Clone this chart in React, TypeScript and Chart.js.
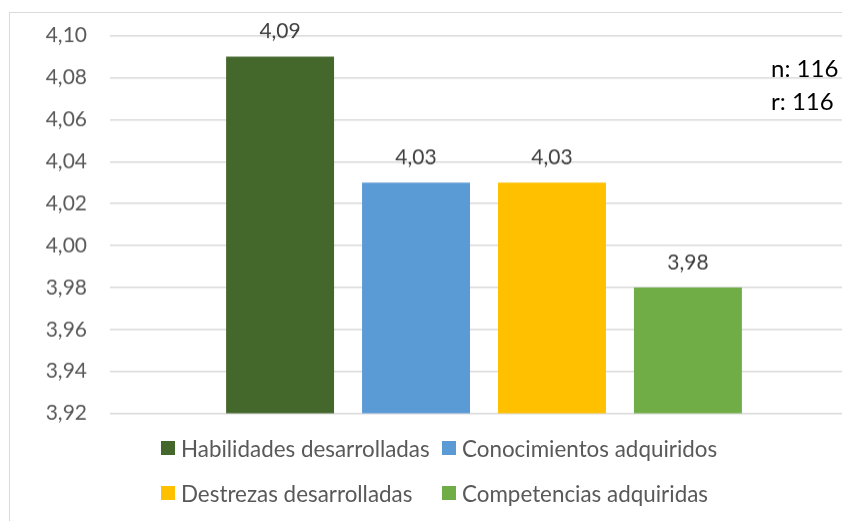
import React, { useEffect, useRef } from "react";
import { Chart, registerables } from "chart.js";

Chart.register(...registerables);

const categories = [""];
const seriesNames = [
  "Habilidades desarrolladas",
  "Conocimientos adquiridos",
  "Destrezas desarrolladas",
  "Competencias adquiridas",
];
const seriesValues = [4.09, 4.03, 4.03, 3.98];
const seriesColors = ["#44682C", "#5B9BD5", "#FFC000", "#70AD47"];
const yMin = 3.92;
const yMax = 4.1;
const yStep = 0.02;
const noteLines = ["n: 116", "r: 116"];

const FONT = "Lato, 'Open Sans', sans-serif";
const fmt = (v: number) => v.toFixed(2).replace(".", ",");

const valueLabels = {
  id: "valueLabels",
  afterDatasetsDraw(chart: any) {
    const ctx = chart.ctx;
    ctx.save();
    ctx.font = `21px ${FONT}`;
    ctx.fillStyle = "#404040";
    ctx.textAlign = "center";
    ctx.textBaseline = "middle";
    chart.data.datasets.forEach((ds: any, i: number) => {
      const meta = chart.getDatasetMeta(i);
      meta.data.forEach((bar: any, j: number) => {
        const v = ds.data[j];
        ctx.fillText(fmt(v), bar.x, bar.y - 25);
      });
    });
    ctx.restore();
  },
};

export default function App() {
  const ref = useRef<HTMLCanvasElement | null>(null);

  useEffect(() => {
    if (!ref.current) return;
    const chart = new Chart(ref.current, {
      type: "bar",
      data: {
        labels: categories,
        datasets: seriesNames.map((name, i) => ({
          label: name,
          data: [seriesValues[i]],
          backgroundColor: seriesColors[i],
          borderWidth: 0,
          barPercentage: 0.794,
          categoryPercentage: 0.727,
        })),
      },
      options: {
        animation: false,
        responsive: true,
        maintainAspectRatio: false,
        layout: { padding: { top: 11, right: 42, bottom: 108, left: 0 } },
        plugins: {
          legend: { display: false },
          tooltip: { enabled: false },
          title: { display: false },
        },
        scales: {
          x: {
            display: false,
          },
          y: {
            min: yMin,
            max: yMax,
            border: { display: false },
            grid: { color: "#D9D9D9", lineWidth: 1.5, drawTicks: false },
            ticks: {
              stepSize: yStep,
              padding: 23,
              color: "#595959",
              font: { family: FONT, size: 21 },
              callback: (v: any) => fmt(Number(v)),
            },
            afterFit: (scale: any) => {
              scale.width = 100;
            },
          },
        },
      },
      plugins: [valueLabels],
    });
    return () => chart.destroy();
  }, []);

  const legendItem = (i: number) => (
    <div style={{ display: "flex", alignItems: "center", height: 30 }}>
      <span
        style={{
          display: "inline-block",
          width: 14,
          height: 14,
          background: seriesColors[i],
          marginRight: 6,
        }}
      />
      <span style={{ fontFamily: FONT, fontSize: 22.4, color: "#595959", whiteSpace: "nowrap" }}>
        {seriesNames[i]}
      </span>
    </div>
  );

  return (
    <div style={{ position: "relative", width: 842, height: 513, overflow: "hidden", background: "#fff" }}>
      <div
        style={{
          position: "absolute",
          left: 1,
          top: 4,
          width: 900,
          height: 600,
          border: "1.5px solid #D9D9D9",
          boxSizing: "border-box",
        }}
      />
      <div style={{ position: "absolute", left: 2, top: -7.6, width: 890, height: 520.6 }}>
        <canvas ref={ref} />
      </div>
      {noteLines.map((t, k) => (
        <div
          key={t}
          style={{
            position: "absolute",
            left: 763,
            top: 60 + k * 33 - 15,
            height: 30,
            lineHeight: "30px",
            fontFamily: FONT,
            fontSize: 24,
            color: "#000",
            whiteSpace: "nowrap",
          }}
        >
          {t}
        </div>
      ))}
      <div style={{ position: "absolute", left: 153, top: 440 - 15 }}>{legendItem(0)}</div>
      <div style={{ position: "absolute", left: 434, top: 440 - 15 }}>{legendItem(1)}</div>
      <div style={{ position: "absolute", left: 153, top: 485 - 15 }}>{legendItem(2)}</div>
      <div style={{ position: "absolute", left: 434, top: 485 - 15 }}>{legendItem(3)}</div>
    </div>
  );
}
